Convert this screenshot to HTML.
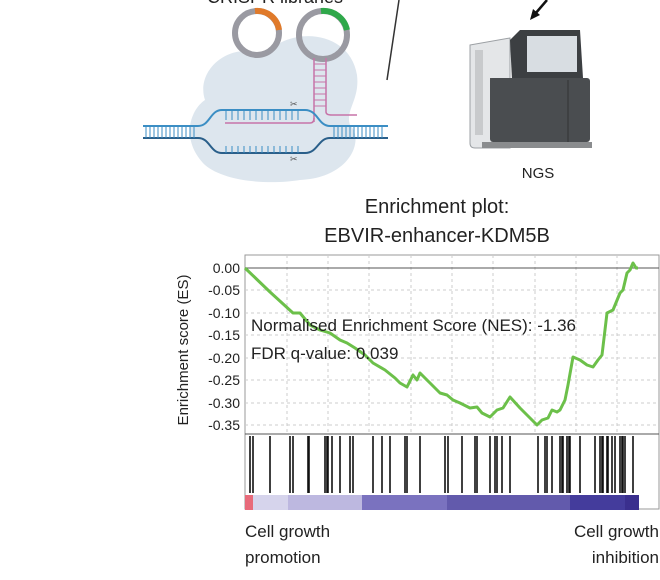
<!DOCTYPE html>
<html><head><meta charset="utf-8"><style>
html,body{margin:0;padding:0;background:#fff;}
svg{display:block;font-family:"Liberation Sans",sans-serif;}
</style></head><body>
<svg width="660" height="580" viewBox="0 0 660 580" xmlns="http://www.w3.org/2000/svg">
<text x="275" y="3" font-size="18" text-anchor="middle" fill="#222">CRISPR libraries</text>
<line x1="399" y1="0" x2="387" y2="80" stroke="#333" stroke-width="1.5"/>
<line x1="547" y1="0" x2="535" y2="14" stroke="#111" stroke-width="2.5"/>
<polygon points="530,20 533,9 540,15" fill="#111"/>
<path d="M205,100 C195,70 230,40 265,55 C290,25 350,30 357,75 C360,100 345,110 350,125 C365,140 350,178 300,180 C270,185 225,182 205,165 C180,140 190,110 205,100 Z" fill="#dde6ee"/>
<circle cx="257" cy="33" r="22" fill="none" stroke="#9a9aa2" stroke-width="6"/>
<path d="M255,11 A22,22 0 0 1 279,30" fill="none" stroke="#e07a2a" stroke-width="6"/>
<circle cx="323" cy="35" r="24" fill="none" stroke="#9a9aa2" stroke-width="6"/>
<path d="M321,11 A24,24 0 0 1 347,30" fill="none" stroke="#2fa84a" stroke-width="6"/>
<line x1="314" y1="58" x2="314" y2="122" stroke="#c774a8" stroke-width="1.5"/>
<line x1="326" y1="58" x2="326" y2="112" stroke="#c774a8" stroke-width="1.5"/>
<g stroke="#c774a8" stroke-width="1">
<line x1="314" y1="64" x2="326" y2="64"/><line x1="314" y1="70" x2="326" y2="70"/><line x1="314" y1="76" x2="326" y2="76"/><line x1="314" y1="82" x2="326" y2="82"/><line x1="314" y1="88" x2="326" y2="88"/><line x1="314" y1="94" x2="326" y2="94"/><line x1="314" y1="100" x2="326" y2="100"/><line x1="314" y1="106" x2="326" y2="106"/>
</g>
<path d="M326,112 Q326,115 332,115 L357,115" fill="none" stroke="#c774a8" stroke-width="1.5"/>
<path d="M225,123 L310,123 Q314,123 314,118" fill="none" stroke="#c774a8" stroke-width="1.5"/>
<path d="M143,126 L198,126 C210,126 210,110 222,110 L305,110 C318,110 318,126 330,126 L388,126" fill="none" stroke="#3b8ec4" stroke-width="2"/>
<path d="M143,138 L198,138 C210,138 210,153 222,153 L305,153 C318,153 318,138 330,138 L388,138" fill="none" stroke="#2a5f8a" stroke-width="2"/>
<g stroke="#3b8ec4" stroke-width="1">
<path d="M146,126v12M150,126v12M154,126v12M158,126v12M162,126v12M166,126v12M170,126v12M174,126v12M178,126v12M182,126v12M186,126v12M190,126v12M194,126v12"/>
<path d="M334,126v12M338,126v12M342,126v12M346,126v12M350,126v12M354,126v12M358,126v12M362,126v12M366,126v12M370,126v12M374,126v12M378,126v12M382,126v12"/>
<path d="M226,110v10M232,110v10M238,110v10M244,110v10M250,110v10M256,110v10M262,110v10M268,110v10M274,110v10M280,110v10M286,110v10M292,110v10M298,110v10"/>
<path d="M226,146v7M232,146v7M238,146v7M244,146v7M250,146v7M256,146v7M262,146v7M268,146v7M274,146v7M280,146v7M286,146v7M292,146v7M298,146v7"/>
</g>
<text x="290" y="107" font-size="9" fill="#555">✂</text>
<text x="290" y="162" font-size="9" fill="#555">✂</text>
<path d="M470,45 L510,38 L510,148 L475,148 Q470,148 470,143 Z" fill="#e4e6e8" stroke="#9ca0a4"/>
<rect x="475" y="50" width="8" height="85" fill="#c8cacc"/>
<path d="M510,40 L520,30 L580,30 L583,78 L512,80 Z" fill="#3c3f42"/>
<rect x="527" y="36" width="50" height="36" fill="#d8dde2"/>
<rect x="490" y="78" width="42" height="3" fill="#555"/>
<rect x="490" y="78" width="100" height="64" rx="3" fill="#4a4d50"/>
<line x1="568" y1="80" x2="568" y2="142" stroke="#333"/>
<rect x="482" y="142" width="110" height="6" fill="#8a8c8e"/>
<text x="538" y="178" font-size="15" text-anchor="middle" fill="#222">NGS</text>
<text x="437" y="213" font-size="20" text-anchor="middle" fill="#222">Enrichment plot:</text>
<text x="437" y="242" font-size="20" text-anchor="middle" fill="#222">EBVIR-enhancer-KDM5B</text>
<rect x="245" y="255" width="414" height="254" fill="none" stroke="#999" stroke-width="1"/>
<g stroke="#ccc" stroke-dasharray="3,3" stroke-width="1">
<line x1="245" y1="290" x2="659" y2="290"/><line x1="245" y1="313" x2="659" y2="313"/><line x1="245" y1="335" x2="659" y2="335"/><line x1="245" y1="358" x2="659" y2="358"/><line x1="245" y1="380" x2="659" y2="380"/><line x1="245" y1="403" x2="659" y2="403"/><line x1="245" y1="425" x2="659" y2="425"/>
<line x1="287" y1="255" x2="287" y2="434"/><line x1="328" y1="255" x2="328" y2="434"/><line x1="369" y1="255" x2="369" y2="434"/><line x1="411" y1="255" x2="411" y2="434"/><line x1="452" y1="255" x2="452" y2="434"/><line x1="493" y1="255" x2="493" y2="434"/><line x1="535" y1="255" x2="535" y2="434"/><line x1="576" y1="255" x2="576" y2="434"/><line x1="617" y1="255" x2="617" y2="434"/>
</g>
<line x1="245" y1="268" x2="659" y2="268" stroke="#555" stroke-width="1"/>
<line x1="245" y1="434" x2="659" y2="434" stroke="#555" stroke-width="1"/>
<g font-size="14" fill="#222" text-anchor="end">
<text x="240" y="273">0.00</text><text x="240" y="295">-0.05</text><text x="240" y="318">-0.10</text><text x="240" y="340">-0.15</text><text x="240" y="363">-0.20</text><text x="240" y="385">-0.25</text><text x="240" y="408">-0.30</text><text x="240" y="430">-0.35</text>
</g>
<text transform="translate(188,350) rotate(-90)" font-size="15" text-anchor="middle" fill="#222">Enrichment score (ES)</text>
<polyline fill="none" stroke="#6cc04a" stroke-width="3" stroke-linejoin="round" points="245,268 270,292 293,313 300,313 310,325 320,330 330,333 340,340 347,343 355,348 365,355 373,363 385,370 395,378 400,383 407,387 413,375 417,380 420,373 430,383 440,393 447,395 453,400 460,403 470,408 477,407 482,413 490,417 497,410 503,408 510,397 520,408 530,418 537,425 542,420 548,418 552,410 557,412 560,410 565,400 568,385 573,357 580,360 587,365 593,367 598,360 602,355 607,313 613,310 620,293 623,290 627,273 630,270 633,263 636,268 638,268"/>
<text x="251" y="331" font-size="17" fill="#222">Normalised Enrichment Score (NES): -1.36</text>
<text x="251" y="359" font-size="17" fill="#222">FDR q-value: 0.039</text>
<g stroke="#111" stroke-width="1.6">
<path d="M250,436v57M253,436v57M270,436v57M290,436v57M293,436v57M308,436v57M309,436v57M325,436v57M327,436v57M328,436v57M332,436v57M340,436v57M350,436v57M353,436v57M373,436v57M382,436v57M390,436v57M405,436v57M407,436v57M420,436v57M445,436v57M448,436v57M462,436v57M475,436v57M477,436v57M490,436v57M495,436v57M497,436v57M502,436v57M510,436v57M538,436v57M545,436v57M547,436v57M552,436v57M560,436v57M562,436v57M563,436v57M567,436v57M569,436v57M570,436v57M580,436v57M595,436v57M600,436v57M602,436v57M603,436v57M607,436v57M608,436v57M612,436v57M615,436v57M620,436v57M622,436v57M623,436v57M625,436v57M633,436v57"/>
</g>
<rect x="245" y="495" width="8" height="15" fill="#e86a7a"/>
<rect x="253" y="495" width="35" height="15" fill="#d6d4ec"/>
<rect x="288" y="495" width="74" height="15" fill="#bdb8e0"/>
<rect x="362" y="495" width="85" height="15" fill="#7a72bf"/>
<rect x="447" y="495" width="123" height="15" fill="#625aac"/>
<rect x="570" y="495" width="55" height="15" fill="#443c9c"/>
<rect x="625" y="495" width="14" height="15" fill="#3a2f8e"/>
<text x="245" y="537" font-size="17" fill="#222">Cell growth</text>
<text x="245" y="563" font-size="17" fill="#222">promotion</text>
<text x="659" y="537" font-size="17" text-anchor="end" fill="#222">Cell growth</text>
<text x="659" y="563" font-size="17" text-anchor="end" fill="#222">inhibition</text>
<text x="0" y="595" font-size="17" fill="#222">...and analysis of enriched sgRNAs reveals host genes regulating cell growth and...</text>
</svg>
</body></html>
